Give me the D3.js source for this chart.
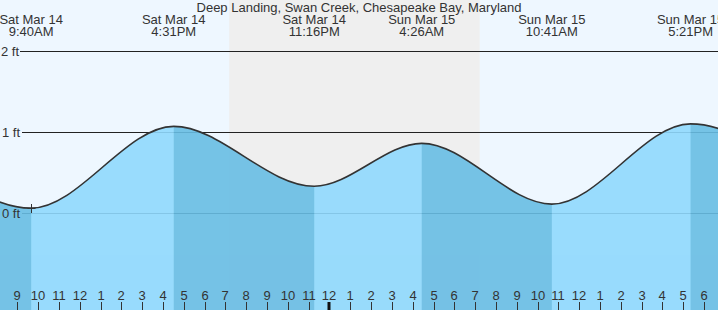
<!DOCTYPE html>
<html><head><meta charset="utf-8">
<script src="https://cdn.jsdelivr.net/npm/d3@7"></script>
<style>
html,body{margin:0;padding:0;background:#fff;}
svg{display:block;font-family:"Liberation Sans",Arial,sans-serif;}
</style></head>
<body>
<script>
const title = "Deep Landing, Swan Creek, Chesapeake Bay, Maryland";
// tide extremes (first and last are just outside the visible window)
const extremeTimes = ["2026-03-14T03:28","2026-03-14T09:40","2026-03-14T16:31","2026-03-14T23:16","2026-03-15T04:26","2026-03-15T10:41","2026-03-15T17:21","2026-03-15T23:45"];
const extremeHeights = [0.98, 0.06, 1.07, 0.33, 0.86, 0.11, 1.10, 0.20];
const extremeShown = [false, true, true, true, true, true, true, false];
const extremeDayLabels = ["", "Sat Mar 14","Sat Mar 14","Sat Mar 14","Sun Mar 15","Sun Mar 15","Sun Mar 15",""];
const extremeTimeLabels = ["", "9:40AM","4:31PM","11:16PM","4:26AM","10:41AM","5:21PM",""];
const nightStart = "2026-03-14T19:11";
const nightEnd = "2026-03-15T07:13";
const domainStart = "2026-03-14T08:10:06";
const domainEnd = "2026-03-15T18:40:06";
const yTicks = [0, 1, 2];
const yTickLabels = ["0 ft", "1 ft", "2 ft"];
const markerIndex = 1;

const W = 718, H = 310;
const parse = d3.isoParse;
const x = d3.scaleTime().domain([parse(domainStart), parse(domainEnd)]).range([0, W]);
const y = d3.scaleLinear().domain([0, 2]).range([213, 51]);

const svg = d3.select("body").append("svg").attr("width", W).attr("height", H);

// background
svg.append("rect").attr("x",0).attr("y",0).attr("width",W).attr("height",H).attr("fill","#eef7ff");
svg.append("rect").attr("x", x(parse(nightStart))).attr("y",0)
  .attr("width", x(parse(nightEnd)) - x(parse(nightStart))).attr("height", H).attr("fill","#efefef");

// grid lines
const grid = svg.append("g");
yTicks.forEach((t,i) => {
  grid.append("line").attr("x1", i===2?20:22).attr("x2", W).attr("y1", Math.round(y(t))+0.5).attr("y2", Math.round(y(t))+0.5)
    .attr("stroke", "#222").attr("stroke-width", 1);
});

const pts = extremeTimes.map((t,i)=>({t: parse(t), h: extremeHeights[i]}));

const area = d3.area().x(d=>x(d.t)).y0(H).y1(d=>y(d.h)).curve(d3.curveMonotoneX);
const line = d3.line().x(d=>x(d.t)).y(d=>y(d.h)).curve(d3.curveMonotoneX);

const defs = svg.append("defs");
defs.append("clipPath").attr("id","water").append("path").attr("d", area(pts));

const water = svg.append("g").attr("clip-path","url(#water)").attr("opacity", 0.9);
water.append("rect").attr("x",0).attr("y",0).attr("width",W).attr("height",H).attr("fill","#8fd9fd");
for (let i = 0; i < pts.length-1; i++) {
  if (pts[i].h > pts[i+1].h) {
    const x0 = x(pts[i].t), x1 = x(pts[i+1].t);
    water.append("rect").attr("x", x0).attr("y", 0).attr("width", x1-x0).attr("height", H).attr("fill", "#68bde4");
  }
}

svg.append("path").attr("d", line(pts)).attr("fill","none").attr("stroke","#333").attr("stroke-width",1.6);

// marker
const m = pts[markerIndex];
const mx = Math.round(x(m.t))+0.5, my = Math.round(y(m.h));
svg.append("line").attr("x1",mx-4).attr("x2",mx+4).attr("y1",my+0.5).attr("y2",my+0.5).attr("stroke","#333");
svg.append("line").attr("x1",mx).attr("x2",mx).attr("y1",my-4).attr("y2",my+5).attr("stroke","#333");

// y labels
yTicks.forEach((t,i) => {
  svg.append("text").attr("x", i===2?19:20).attr("y", y(t)+5).attr("text-anchor","end")
    .attr("font-size", 13).attr("fill", "#333").text(yTickLabels[i]);
});

// title
svg.append("text").attr("x", 359).attr("y", 12).attr("text-anchor","middle").attr("font-size",13).attr("fill","#333").text(title);

// extreme labels
pts.forEach((p,i) => {
  if (!extremeShown[i]) return;
  const g = svg.append("text").attr("text-anchor","middle").attr("font-size",13).attr("fill","#333");
  g.append("tspan").attr("x", x(p.t)).attr("y", 24).text(extremeDayLabels[i]);
  g.append("tspan").attr("x", x(p.t)).attr("y", 36).text(extremeTimeLabels[i]);
});

// hour axis
const hours = x.ticks(d3.timeHour.every(1));
const fmt = d3.timeFormat("%-I");
const ax = svg.append("g");
hours.forEach(h => {
  const hx = Math.round(x(h));
  const mid = h.getHours() === 0;
  ax.append("line").attr("x1", hx + (mid?0:0.5)).attr("x2", hx + (mid?0:0.5)).attr("y1", 302).attr("y2", H)
    .attr("stroke", mid ? "#111" : "#333").attr("stroke-width", mid ? 3 : 1);
  ax.append("text").attr("x", hx).attr("y", 300).attr("text-anchor","middle").attr("font-size",13).attr("fill","#333").text(fmt(h));
});
</script>
</body></html>
